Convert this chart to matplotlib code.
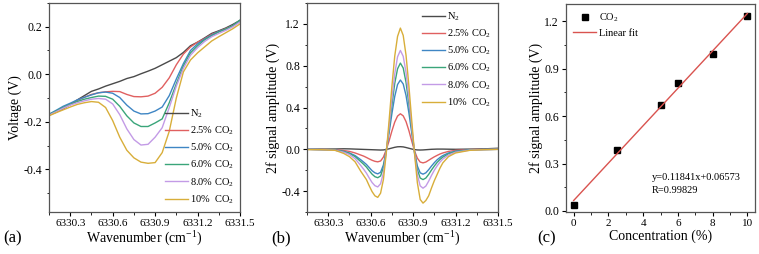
import matplotlib
matplotlib.use("Agg")
import matplotlib.pyplot as plt
from matplotlib.ticker import MultipleLocator

plt.rcParams["font.family"] = ["Liberation Serif", "DejaVu Serif"]
plt.rcParams["mathtext.fontset"] = "custom"
plt.rcParams["mathtext.rm"] = "Liberation Serif"
plt.rcParams["mathtext.it"] = "Liberation Serif:italic"
plt.rcParams["axes.unicode_minus"] = False

labels = ["N$_2$", "2.5% CO$_2$", "5.0% CO$_2$", "6.0% CO$_2$", "8.0% CO$_2$", "10%  CO$_2$"]
colors = ["#4a4a4a", "#e06060", "#3f86c4", "#3aa57a", "#c39be6", "#d8ae3a"]

# (a) raw voltage signal
wn_a = [6330.15, 6330.20, 6330.25, 6330.30, 6330.35, 6330.40, 6330.45, 6330.50,
        6330.55, 6330.60, 6330.65, 6330.70, 6330.75, 6330.80, 6330.85, 6330.90,
        6330.95, 6331.00, 6331.05, 6331.10, 6331.15, 6331.20, 6331.25, 6331.30,
        6331.35, 6331.40, 6331.45, 6331.50]
volt_n2 = [-0.172, -0.160, -0.145, -0.128, -0.108, -0.090, -0.072, -0.062, -0.050, -0.040,
           -0.030, -0.018, -0.010, 0.002, 0.013, 0.025, 0.040, 0.055, 0.070, 0.092,
           0.120, 0.135, 0.153, 0.172, 0.183, 0.195, 0.210, 0.227]
volt_25 = [-0.170, -0.158, -0.142, -0.127, -0.110, -0.097, -0.085, -0.078, -0.074, -0.072,
           -0.073, -0.085, -0.094, -0.095, -0.092, -0.080, -0.055, -0.015, 0.040, 0.085,
           0.115, 0.135, 0.150, 0.168, 0.180, 0.192, 0.205, 0.222]
volt_50 = [-0.168, -0.152, -0.135, -0.122, -0.108, -0.097, -0.087, -0.078, -0.075, -0.080,
           -0.098, -0.130, -0.155, -0.167, -0.166, -0.155, -0.138, -0.090, -0.020, 0.045,
           0.100, 0.128, 0.148, 0.165, 0.180, 0.190, 0.205, 0.225]
volt_60 = [-0.170, -0.155, -0.140, -0.127, -0.115, -0.105, -0.098, -0.092, -0.093, -0.105,
           -0.135, -0.175, -0.205, -0.220, -0.220, -0.205, -0.188, -0.120, -0.040, 0.035,
           0.090, 0.120, 0.145, 0.162, 0.178, 0.190, 0.205, 0.228]
volt_80 = [-0.172, -0.158, -0.143, -0.130, -0.120, -0.112, -0.105, -0.102, -0.105, -0.125,
           -0.170, -0.230, -0.275, -0.298, -0.295, -0.265, -0.225, -0.140, -0.050, 0.025,
           0.080, 0.112, 0.138, 0.158, 0.172, 0.185, 0.200, 0.220]
volt_10 = [-0.175, -0.162, -0.150, -0.138, -0.127, -0.120, -0.115, -0.118, -0.140, -0.195,
           -0.265, -0.320, -0.352, -0.370, -0.375, -0.372, -0.330, -0.240, -0.100, 0.010,
           0.060, 0.090, 0.115, 0.140, 0.158, 0.175, 0.192, 0.212]

# (b) 2f signal
wn_b = [6330.15, 6330.25, 6330.35, 6330.41, 6330.45, 6330.49, 6330.53, 6330.55,
        6330.57, 6330.59, 6330.61, 6330.63, 6330.65, 6330.67, 6330.69, 6330.71,
        6330.73, 6330.75, 6330.77, 6330.79, 6330.81, 6330.83, 6330.85, 6330.87,
        6330.89, 6330.91, 6330.93, 6330.95, 6330.97, 6330.99, 6331.01, 6331.03,
        6331.05, 6331.07, 6331.09, 6331.11, 6331.15, 6331.20, 6331.30, 6331.40, 6331.50]
sig_n2 = [0.000, 0.002, 0.003, 0.005, 0.004, 0.002, 0.000, -0.001, -0.002, -0.003,
          -0.004, -0.005, -0.006, -0.007, -0.006, -0.002, 0.005, 0.012, 0.019, 0.024,
          0.025, 0.023, 0.017, 0.010, 0.003, -0.003, -0.006, -0.007, -0.006, -0.004,
          -0.002, 0.000, 0.001, 0.002, 0.002, 0.002, 0.001, 0.000, 0.002, 0.004, 0.010]
sig_25 = [0.000, -0.002, -0.005, -0.012, -0.020, -0.035, -0.055, -0.065, -0.078, -0.092,
          -0.105, -0.115, -0.120, -0.112, -0.075, -0.005, 0.080, 0.175, 0.260, 0.318,
          0.340, 0.320, 0.265, 0.180, 0.080, -0.015, -0.085, -0.122, -0.130, -0.122,
          -0.105, -0.088, -0.072, -0.058, -0.045, -0.035, -0.020, -0.010, -0.003, -0.001, 0.000]
sig_50 = [0.000, -0.003, -0.008, -0.020, -0.035, -0.060, -0.100, -0.122, -0.145, -0.175,
          -0.205, -0.225, -0.235, -0.220, -0.150, -0.015, 0.155, 0.340, 0.505, 0.620,
          0.663, 0.625, 0.515, 0.350, 0.160, -0.025, -0.160, -0.225, -0.238, -0.225,
          -0.195, -0.160, -0.128, -0.100, -0.078, -0.060, -0.035, -0.018, -0.005, -0.002, 0.000]
sig_60 = [0.000, -0.003, -0.009, -0.022, -0.040, -0.070, -0.118, -0.143, -0.170, -0.205,
          -0.238, -0.262, -0.272, -0.255, -0.175, -0.020, 0.190, 0.420, 0.630, 0.770,
          0.825, 0.778, 0.640, 0.435, 0.195, -0.030, -0.195, -0.275, -0.290, -0.275,
          -0.240, -0.198, -0.160, -0.125, -0.097, -0.075, -0.043, -0.022, -0.006, -0.002, 0.000]
sig_80 = [0.000, -0.004, -0.010, -0.028, -0.050, -0.090, -0.155, -0.190, -0.228, -0.275,
          -0.318, -0.348, -0.360, -0.330, -0.225, -0.030, 0.215, 0.480, 0.720, 0.885,
          0.946, 0.890, 0.735, 0.495, 0.225, -0.035, -0.245, -0.350, -0.372, -0.352,
          -0.305, -0.250, -0.200, -0.158, -0.122, -0.093, -0.055, -0.028, -0.008, -0.003, 0.000]
sig_10 = [-0.003, -0.004, -0.010, -0.040, -0.070, -0.120, -0.210, -0.250, -0.290, -0.350,
          -0.405, -0.445, -0.460, -0.420, -0.290, -0.040, 0.270, 0.600, 0.890, 1.080,
          1.160, 1.090, 0.900, 0.610, 0.280, -0.040, -0.320, -0.480, -0.515, -0.490,
          -0.445, -0.370, -0.300, -0.240, -0.180, -0.130, -0.070, -0.035, -0.010, -0.004, -0.001]

# (c) calibration
conc = [0, 2.5, 5, 6, 8, 10]
amp = [0.035, 0.385, 0.670, 0.810, 0.995, 1.235]
fit_x = [0, 10]
slope = 0.11841
intercept = 0.06573

wn_ticks = [6330.3, 6330.6, 6330.9, 6331.2, 6331.5]


def style_axis(ax):
    for sp in ax.spines.values():
        sp.set_color("#555555")
        sp.set_linewidth(0.9)
    ax.tick_params(which="major", direction="out", length=3, width=0.8, pad=2)
    ax.tick_params(axis="x", labelsize=8)
    ax.tick_params(axis="y", labelsize=8.5)
    ax.tick_params(which="minor", direction="out", length=1.8, width=0.6)


fig = plt.figure(figsize=(7.59, 2.54), dpi=100)
ax_a = fig.add_axes([49 / 759, 42 / 254, 191 / 759, 209 / 254])
ax_b = fig.add_axes([307 / 759, 42 / 254, 191 / 759, 209 / 254])
ax_c = fig.add_axes([566 / 759, 42 / 254, 189 / 759, 208 / 254])

volts = [volt_n2, volt_25, volt_50, volt_60, volt_80, volt_10]
for v, c, lab in zip(volts, colors, labels):
    ax_a.plot(wn_a, v, color=c, lw=1.0, label=lab)
ax_a.set_xlim(6330.15, 6331.5)
ax_a.set_ylim(-0.58, 0.30)
ax_a.xaxis.set_minor_locator(MultipleLocator(0.15))
ax_a.yaxis.set_minor_locator(MultipleLocator(0.1))
ax_a.set_yticks([-0.4, -0.2, 0.0, 0.2])
ax_a.set_yticklabels(["-0.4", "-0.2", "0.0", "0.2"])
ax_a.set_xticks(wn_ticks)
ax_a.set_xticklabels([f"{t:.1f}" for t in wn_ticks])
ax_a.set_xlabel("Wavenumber (cm$^{-1}$)", fontsize=10, labelpad=1)
ax_a.set_ylabel("Voltage (V)", fontsize=10, labelpad=1)
ax_a.legend(loc="lower right", frameon=False, fontsize=7.5, handlelength=2.2,
            handletextpad=0.2, labelspacing=0.45, borderaxespad=0.2)
style_axis(ax_a)

sigs = [sig_n2, sig_25, sig_50, sig_60, sig_80, sig_10]
for s, c, lab in zip(sigs, colors, labels):
    ax_b.plot(wn_b, s, color=c, lw=1.0, label=lab)
ax_b.set_xlim(6330.15, 6331.5)
ax_b.set_ylim(-0.6, 1.4)
ax_b.xaxis.set_minor_locator(MultipleLocator(0.15))
ax_b.yaxis.set_minor_locator(MultipleLocator(0.2))
ax_b.set_xticks(wn_ticks)
ax_b.set_xticklabels([f"{t:.1f}" for t in wn_ticks])
ax_b.set_yticks([-0.4, 0.0, 0.4, 0.8, 1.2])
ax_b.set_yticklabels(["-0.4", "0.0", "0.4", "0.8", "1.2"])
ax_b.set_xlabel("Wavenumber (cm$^{-1}$)", fontsize=10, labelpad=1)
ax_b.set_ylabel("2f signal amplitude (V)", fontsize=10, labelpad=1)
ax_b.legend(loc="upper right", frameon=False, fontsize=7.5, handlelength=2.2,
            handletextpad=0.2, labelspacing=0.45, borderaxespad=0.3)
style_axis(ax_b)

ax_c.plot(conc, amp, "s", color="black", ms=4, label="CO$_2$")
ax_c.plot(fit_x, [slope * x + intercept for x in fit_x], color="#d9534f", lw=1.0, label="Linear fit")
ax_c.set_xlim(-0.44, 10.44)
ax_c.set_ylim(-0.007, 1.31)
ax_c.set_xticks([0, 2, 4, 6, 8, 10])
ax_c.xaxis.set_minor_locator(MultipleLocator(1))
ax_c.set_yticks([0.0, 0.3, 0.6, 0.9, 1.2])
ax_c.set_yticklabels(["0.0", "0.3", "0.6", "0.9", "1.2"])
ax_c.yaxis.set_minor_locator(MultipleLocator(0.15))
ax_c.set_xlabel("Concentration (%)", fontsize=10, labelpad=1)
ax_c.set_ylabel("2f signal amplitude (V)", fontsize=10, labelpad=1)
ax_c.legend(loc="upper left", frameon=False, fontsize=7.5, handlelength=2.2,
            handletextpad=0.3, labelspacing=0.45, borderaxespad=0.3)
ax_c.text(4.5, 0.21, "y=0.11841x+0.06573", fontsize=7.5, va="center")
ax_c.text(4.5, 0.13, "R=0.99829", fontsize=7.5, va="center")
style_axis(ax_c)

fig.text(3 / 759, 1 - 238 / 254, "(a)", fontsize=12, va="center")
fig.text(271 / 759, 1 - 238 / 254, "(b)", fontsize=12, va="center")
fig.text(537 / 759, 1 - 238 / 254, "(c)", fontsize=12, va="center")

fig.savefig("out.png", dpi=100)
